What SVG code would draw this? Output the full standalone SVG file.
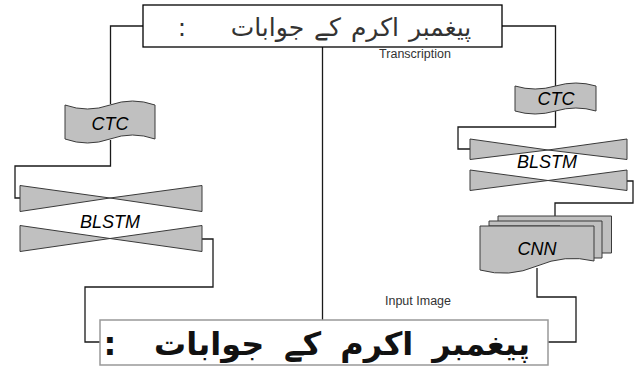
<svg xmlns="http://www.w3.org/2000/svg" width="640" height="369" viewBox="0 0 640 369">
<style>
.conn{fill:none;stroke:#1a1a1a;stroke-width:1.3}
.shape{fill:#c0c0c0;stroke:#3a3a3a;stroke-width:1}
.lbl{font-family:"Liberation Sans",Arial,sans-serif;font-style:italic;font-size:18px;fill:#000;text-anchor:middle}
.small{font-family:"Liberation Sans",Arial,sans-serif;font-size:12.5px;fill:#333;text-anchor:middle}
.ur{font-family:"DejaVu Sans","Noto Sans",sans-serif}
</style>
<rect width="640" height="369" fill="#fff"/>
<g id="connectors">
<path class="conn" d="M143,26 H110.5 V104"/>
<path class="conn" d="M502,26 H555.5 V86"/>
<path class="conn" d="M322.5,47 V320"/>
<path class="conn" d="M110.5,140 V166 H15 V198 H20"/>
<path class="conn" d="M202,239 H213 V287 H85 V342 H100"/>
<path class="conn" d="M555.5,110 V127 H458 V149 H470"/>
<path class="conn" d="M627,181 H633 V203 H555 V216"/>
<path class="conn" d="M537,268 V297 H576 V342 H548"/>
</g>
<g id="transcription">
<rect x="143" y="5" width="359" height="42" fill="#fff" stroke="#000" stroke-width="1.3"/>
<text class="ur" x="351" y="36" font-size="25" text-anchor="middle" fill="#333" word-spacing="2">پیغمبر اکرم کے جوابات</text>
<text class="ur" x="182" y="36" font-size="25" text-anchor="middle" fill="#333">:</text>
<text class="small" x="415" y="58">Transcription</text>
</g>
<g id="ctc-left">
<path class="shape" d="M65,105 Q87.5,113 110,105 T155,105 L155,139 Q132.5,131 110,139 T65,139 Z"/>
<text class="lbl" x="110" y="130">CTC</text>
</g>
<g id="blstm-left">
<path class="shape" d="M20,185.5 L110,198 L20,211.5 Z"/>
<path class="shape" d="M202,185.5 L110,198 L202,211.5 Z"/>
<path class="shape" d="M20,225.5 L110,238.5 L20,251.5 Z"/>
<path class="shape" d="M202,225.5 L110,238.5 L202,251.5 Z"/>
<text class="lbl" x="110" y="228">BLSTM</text>
</g>
<g id="ctc-right">
<path class="shape" d="M515,86 Q535,92 555.5,86 T596,86 L596,111 Q576,105 555.5,111 T515,111 Z"/>
<text class="lbl" x="556" y="105">CTC</text>
</g>
<g id="blstm-right">
<path class="shape" d="M470,139 L548,150 L470,159.5 Z"/>
<path class="shape" d="M627,139 L548,150 L627,159.5 Z"/>
<path class="shape" d="M470,170 L548,180.5 L470,190.5 Z"/>
<path class="shape" d="M627,170 L548,180.5 L627,190.5 Z"/>
<text class="lbl" x="547" y="168">BLSTM</text>
</g>
<g id="cnn">
<path class="shape" d="M498,216 H611.5 V253 L560,253 V226 H498 Z"/>
<path class="shape" d="M489,221 H602 V258 L560,258 V226 H489 Z"/>
<path class="shape" d="M480,226 H594 V261 Q565,254 537,266 T480,270 Z"/>
<text class="lbl" x="537" y="255">CNN</text>
</g>
<g id="input-image">
<text class="small" x="418" y="305">Input Image</text>
<rect x="100" y="320" width="448" height="45" fill="#fff" stroke="#999" stroke-width="1.5"/>
<text class="ur" x="342" y="355" font-size="32" font-weight="bold" text-anchor="middle" fill="#111" word-spacing="8">پیغمبر اکرم کے جوابات</text>
<text class="ur" x="110" y="355" font-size="32" font-weight="bold" text-anchor="middle" fill="#111">:</text>
</g>
</svg>
